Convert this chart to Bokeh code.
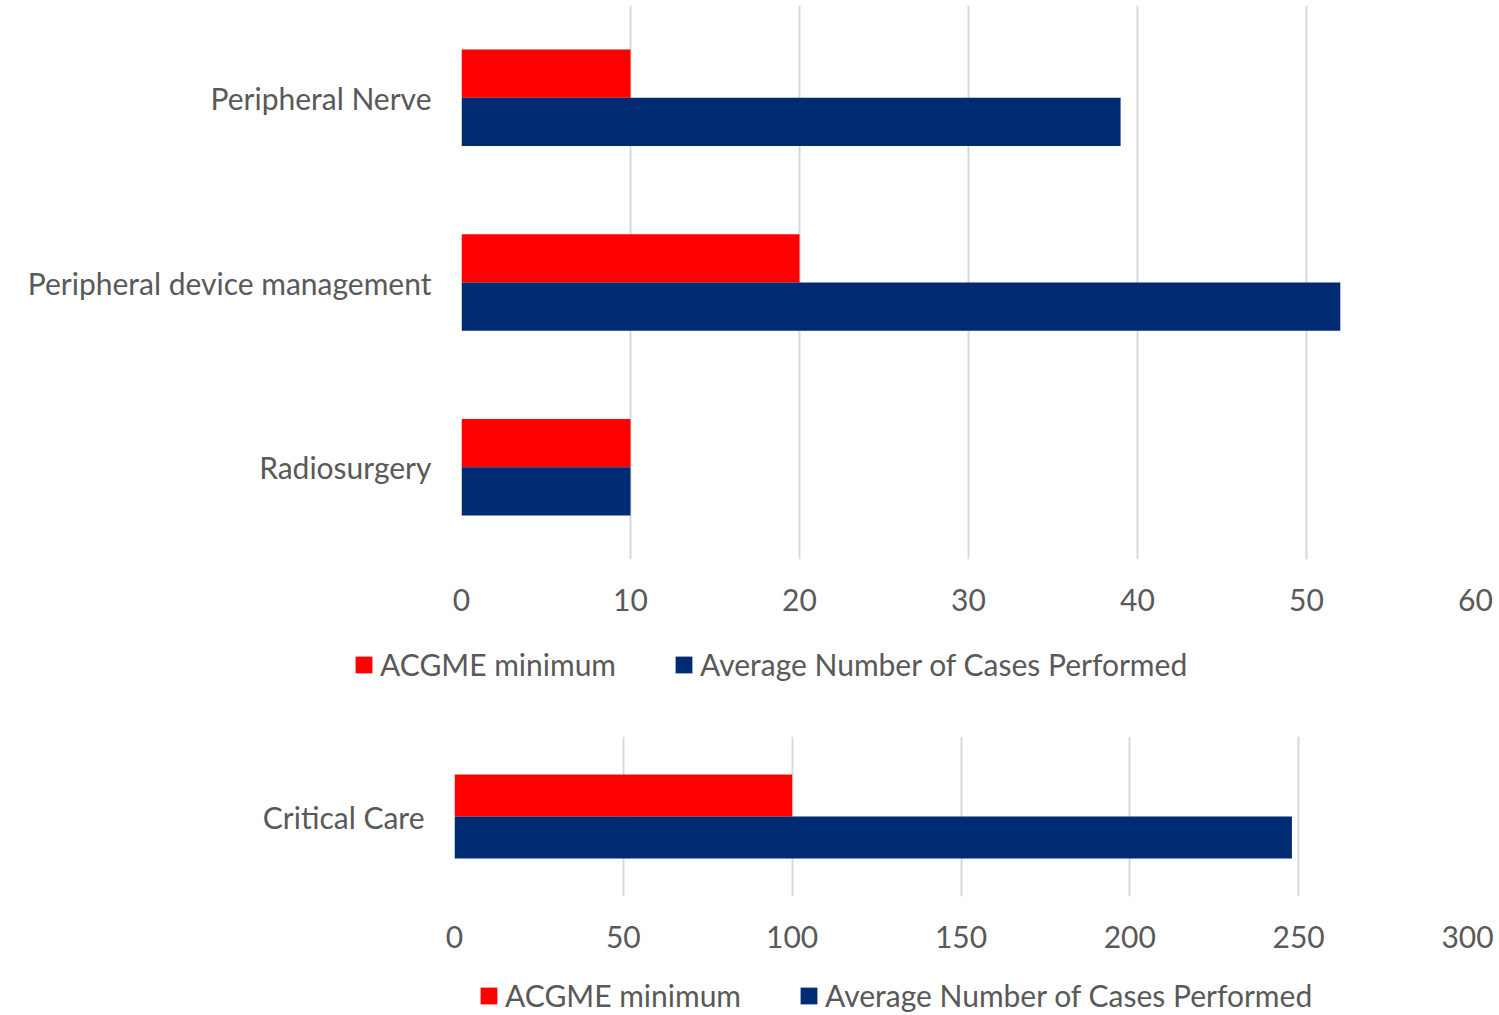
from bokeh.plotting import figure
from bokeh.models import ColumnDataSource, Range1d, FactorRange, Legend, LegendItem, FixedTicker
from bokeh.transform import dodge
from bokeh.layouts import column
from bokeh.embed import file_html
from bokeh.resources import INLINE

# ---- data ----
top_categories = ["Radiosurgery", "Peripheral device management", "Peripheral Nerve"]
top_acgme = [10, 20, 10]
top_average = [10, 52, 39]
top_ticks = [0, 10, 20, 30, 40, 50, 60]

bottom_categories = ["Critical Care"]
bottom_acgme = [100]
bottom_average = [248]
bottom_ticks = [0, 50, 100, 150, 200, 250, 300]

series_names = ["ACGME minimum", "Average Number of Cases Performed"]
RED = "#FF0000"
BLUE = "#002B73"
TXT = "#595959"
FONT = "Lato"
FS = "30px"


def make_chart(cats, acgme, avg, ticks, fw, fh, fl, fr, ft, fb, bar_h):
    src = ColumnDataSource(dict(cat=cats, acgme=acgme, avg=avg))
    p = figure(frame_width=fw, frame_height=fh, y_range=FactorRange(*cats),
               x_range=Range1d(ticks[0], ticks[-1]), output_backend="svg",
               toolbar_location=None, min_border_left=fl, min_border_right=fr,
               min_border_top=ft, min_border_bottom=fb)
    p.hbar(y=dodge("cat", bar_h / 2, range=p.y_range), left=0, right="acgme",
           height=bar_h, source=src, fill_color=RED, line_color=None)
    p.hbar(y=dodge("cat", -bar_h / 2, range=p.y_range), left=0, right="avg",
           height=bar_h, source=src, fill_color=BLUE, line_color=None)
    p.outline_line_color = None
    p.ygrid.grid_line_color = None
    p.xgrid.grid_line_color = "#D9D9D9"
    p.xgrid.grid_line_width = 2
    p.xaxis.ticker = FixedTicker(ticks=ticks)
    for ax in (p.xaxis[0], p.yaxis[0]):
        ax.axis_line_color = None
        ax.major_tick_line_color = None
        ax.minor_tick_line_color = None
        ax.major_label_text_font = FONT
        ax.major_label_text_font_size = FS
        ax.major_label_text_color = TXT
    p.yaxis.major_label_standoff = 24
    p.xaxis.major_label_standoff = 23
    return p


def make_legend(cats, acgme, avg, ticks, height, leg_x, shift):
    # legend strip: same series drawn out of view (below the strip), only the legend shows
    src = ColumnDataSource(dict(cat=list(range(len(cats))), acgme=acgme, avg=avg))
    q = figure(width=1490, height=height, x_range=Range1d(ticks[0], ticks[-1]),
               y_range=Range1d(20, 21), output_backend="svg", toolbar_location=None,
               x_axis_location=None, y_axis_location=None,
               min_border_left=0, min_border_right=0, min_border_top=0, min_border_bottom=0)
    r1 = q.hbar(y="cat", left=0, right="acgme", height=0.5, source=src,
                fill_color=RED, line_color=None)
    r2 = q.hbar(y="cat", left=0, right="avg", height=0.5, source=src,
                fill_color=BLUE, line_color=None)
    q.outline_line_color = None
    q.xgrid.visible = False
    q.ygrid.visible = False
    legend = Legend(items=[LegendItem(label=series_names[0], renderers=[r1]),
                           LegendItem(label=series_names[1], renderers=[r2])],
                    orientation="horizontal", location=(leg_x, 0),
                    label_text_font=FONT, label_text_font_size=FS, label_text_color=TXT,
                    glyph_width=21, glyph_height=21, label_standoff=6, spacing=57,
                    border_line_color=None, background_fill_alpha=0,
                    padding=0, margin=0)
    q.add_layout(legend, "center")
    q.margin = (0, 0, 0, -shift)
    return q


p1 = make_chart(top_categories, top_acgme, top_average, top_ticks,
                1014, 554, 454, 22, 5, 85, 0.2615)
leg1 = make_legend(top_categories, top_acgme, top_average, top_ticks, 38, 9, 110)
p2 = make_chart(bottom_categories, bottom_acgme, bottom_average, bottom_ticks,
                1013, 160, 454, 30, 54, 81, 0.2625)
leg2 = make_legend(bottom_categories, bottom_acgme, bottom_average, bottom_ticks, 36, 124, 100)
p1.margin = (0, 0, 0, 7)

layout = column(p1, leg1, p2, leg2, spacing=0)
open("out.html", "w").write(file_html(layout, INLINE))
